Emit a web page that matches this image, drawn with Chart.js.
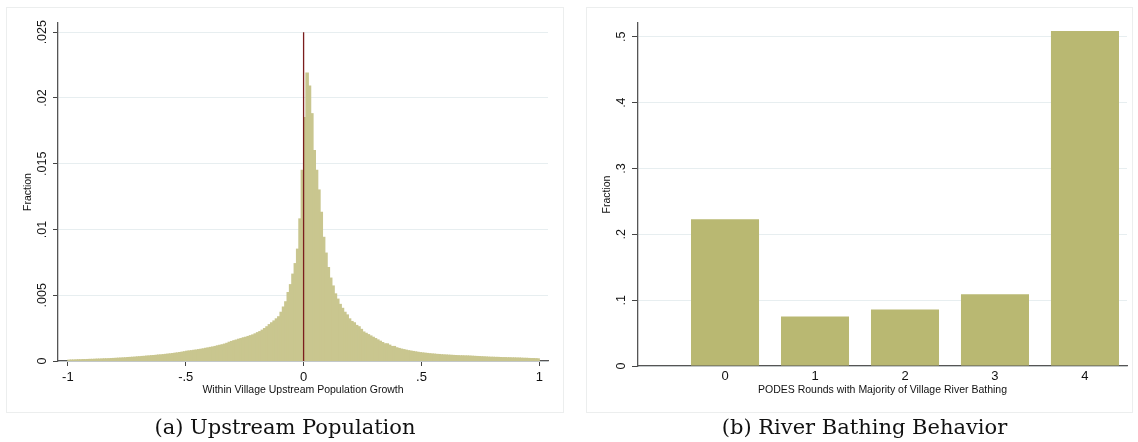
<!DOCTYPE html>
<html>
<head>
<meta charset="utf-8">
<script src="https://cdn.jsdelivr.net/npm/chart.js@4.4.1/dist/chart.umd.min.js"></script>
<style>
  body { margin: 0; background: #fff; width: 1138px; height: 442px; position: relative; overflow: hidden; font-family: "Liberation Sans", Arial, sans-serif; }
  .panel { position: absolute; top: 8px; height: 404px; outline: 1px solid #eceeee; }
  #panelA { left: 7px; width: 556px; }
  #panelB { left: 587px; width: 545px; }
  .caption { position: absolute; top: 413px; font-family: "DejaVu Serif", serif; font-size: 21px; line-height: 28px; color: #111; text-align: center; }
  #capA { left: 7px; width: 556px; }
  #capB { left: 587px; width: 555px; }
</style>
</head>
<body>
<div class="panel" id="panelA"><canvas id="chartA"></canvas></div>
<div class="panel" id="panelB"><canvas id="chartB"></canvas></div>
<div class="caption" id="capA">(a) Upstream Population</div>
<div class="caption" id="capB">(b) River Bathing Behavior</div>
<script>
// (a) histogram of within-village upstream population growth, bins of .01 from -1 to 1
const growthBinStart = -1;
const growthBinWidth = 0.01;
const growthFraction = [
    0.00006, 0.00007, 0.00007, 0.00008, 0.00009, 0.00009, 0.00010, 0.00010, 0.00011, 0.00012,
    0.00012, 0.00013, 0.00014, 0.00014, 0.00015, 0.00016, 0.00016, 0.00017, 0.00018, 0.00019,
    0.00020, 0.00021, 0.00022, 0.00023, 0.00024, 0.00026, 0.00027, 0.00028, 0.00029, 0.00031,
    0.00032, 0.00034, 0.00035, 0.00037, 0.00038, 0.00040, 0.00041, 0.00043, 0.00045, 0.00046,
    0.00048, 0.00050, 0.00052, 0.00054, 0.00056, 0.00059, 0.00061, 0.00064, 0.00067, 0.00070,
    0.00074, 0.00076, 0.00078, 0.00081, 0.00083, 0.00086, 0.00089, 0.00092, 0.00096, 0.00099,
    0.00103, 0.00106, 0.00110, 0.00115, 0.00119, 0.00123, 0.00128, 0.00134, 0.00142, 0.00148,
    0.00154, 0.00159, 0.00165, 0.00170, 0.00176, 0.00180, 0.00186, 0.00192, 0.00198, 0.00206,
    0.00215, 0.00223, 0.00234, 0.00246, 0.00260, 0.00276, 0.00290, 0.00304, 0.00320, 0.00336,
    0.00370, 0.00410, 0.00450, 0.00520, 0.00580, 0.00660, 0.00740, 0.00850, 0.01080, 0.01450,
    0.01850, 0.02190, 0.02090, 0.01880, 0.01600, 0.01450, 0.01300, 0.01130, 0.00940, 0.00820,
    0.00710, 0.00630, 0.00570, 0.00510, 0.00470, 0.00430, 0.00400, 0.00370, 0.00350, 0.00320,
    0.00300, 0.00290, 0.00270, 0.00260, 0.00240, 0.00220, 0.00210, 0.00200, 0.00190, 0.00180,
    0.00170, 0.00160, 0.00150, 0.00140, 0.00130, 0.00130, 0.00120, 0.00110, 0.00110, 0.00100,
    0.00095, 0.00090, 0.00086, 0.00082, 0.00078, 0.00075, 0.00072, 0.00069, 0.00066, 0.00063,
    0.00061, 0.00059, 0.00057, 0.00055, 0.00053, 0.00052, 0.00050, 0.00049, 0.00047, 0.00046,
    0.00045, 0.00044, 0.00043, 0.00042, 0.00041, 0.00040, 0.00039, 0.00039, 0.00038, 0.00038,
    0.00037, 0.00036, 0.00035, 0.00034, 0.00033, 0.00032, 0.00031, 0.00030, 0.00029, 0.00028,
    0.00028, 0.00027, 0.00027, 0.00026, 0.00025, 0.00025, 0.00024, 0.00024, 0.00023, 0.00023,
    0.00022, 0.00022, 0.00021, 0.00020, 0.00020, 0.00019, 0.00018, 0.00018, 0.00017, 0.00016
];
const growthXTicks = [-1, -0.5, 0, 0.5, 1];
const growthYTicks = [0, 0.005, 0.01, 0.015, 0.02, 0.025];
const zeroLineX = [0, 0];
const zeroLineY = [0, 0.025];

// (b) PODES rounds with majority river bathing
const bathingRounds = [0, 1, 2, 3, 4];
const bathingFraction = [0.223, 0.075, 0.086, 0.109, 0.509];
const bathingYTicks = [0, 0.1, 0.2, 0.3, 0.4, 0.5];

// stata style labels: .5 instead of 0.5
function stataLabel(value) {
    if (value === 0) return "0";
    return String(+value.toFixed(4)).replace(/^(-?)0\./, "$1.");
}

function fixedTicks(list) {
    return scale => { scale.ticks = list.map(v => ({ value: v })); };
}

const axisColor = "#555";
const gridColor = "#e7eef0";
const tickFont = { family: "Liberation Sans", size: 12.5 };
const titleFont = { family: "Liberation Sans", size: 10.5 };

Chart.defaults.color = "#111";
Chart.defaults.animation = false;

new Chart(document.getElementById("chartA"), {
    type: "bar",
    data: {
        datasets: [
            {
                type: "line",
                data: zeroLineX.map((x, i) => ({ x: x, y: zeroLineY[i] })),
                borderColor: "#7b1d1d",
                borderWidth: 1.3,
                pointRadius: 0,
                order: 0
            },
            {
                data: growthFraction.map((v, i) => ({ x: growthBinStart + growthBinWidth * (i + 0.5), y: v })),
                backgroundColor: "#c9c68f",
                borderWidth: 0,
                inflateAmount: 0.6,
                barPercentage: 1,
                categoryPercentage: 1,
                order: 1
            }
        ]
    },
    options: {
        responsive: true,
        maintainAspectRatio: false,
        layout: { padding: { top: 15, right: 15, left: 0, bottom: 0 } },
        plugins: { legend: { display: false }, tooltip: { enabled: false } },
        scales: {
            x: {
                type: "linear",
                offset: false,
                min: -1.042,
                max: 1.037,
                afterBuildTicks: fixedTicks(growthXTicks),
                afterFit: s => { s.height = 51; },
                ticks: { callback: stataLabel, font: { family: "Liberation Sans", size: 13 }, padding: 4, maxRotation: 0, autoSkip: false },
                grid: { offset: false, drawOnChartArea: false, tickLength: 5, tickColor: "#444" },
                border: { color: axisColor, width: 1.3 },
                title: { display: true, text: "Within Village Upstream Population Growth", font: titleFont, padding: { top: 0, bottom: 16 } }
            },
            y: {
                min: 0,
                max: 0.0257,
                afterBuildTicks: fixedTicks(growthYTicks),
                afterFit: s => { s.width = 51; },
                ticks: { callback: stataLabel, font: tickFont, minRotation: 90, maxRotation: 90, crossAlign: "center", padding: -2 },
                grid: { color: gridColor, tickLength: 5, tickColor: "#444" },
                border: { color: axisColor, width: 1.3 },
                title: { display: true, text: "Fraction", font: titleFont, padding: { top: 15, bottom: 0 } }
            }
        }
    }
});

new Chart(document.getElementById("chartB"), {
    type: "bar",
    data: {
        datasets: [{
            data: bathingRounds.map((r, i) => ({ x: r, y: bathingFraction[i] })),
            backgroundColor: "#b9b872",
            borderWidth: 0,
            barPercentage: 0.756,
            categoryPercentage: 1
        }]
    },
    options: {
        responsive: true,
        maintainAspectRatio: false,
        layout: { padding: { top: 15, right: 5, left: 0, bottom: 0 } },
        plugins: { legend: { display: false }, tooltip: { enabled: false } },
        scales: {
            x: {
                type: "linear",
                offset: false,
                min: -0.967,
                max: 4.467,
                afterBuildTicks: fixedTicks(bathingRounds),
                afterFit: s => { s.height = 46; },
                ticks: { callback: stataLabel, font: { family: "Liberation Sans", size: 13 }, padding: 3, maxRotation: 0, autoSkip: false },
                grid: { offset: false, drawOnChartArea: false, drawTicks: false },
                border: { color: axisColor, width: 1.3 },
                title: { display: true, text: "PODES Rounds with Majority of Village River Bathing", font: titleFont, padding: { top: 0, bottom: 16 } }
            },
            y: {
                min: 0,
                max: 0.521,
                afterBuildTicks: fixedTicks(bathingYTicks),
                afterFit: s => { s.width = 51; },
                ticks: { callback: stataLabel, font: tickFont, minRotation: 90, maxRotation: 90, crossAlign: "center", padding: 5 },
                grid: { color: gridColor, tickLength: 6, tickColor: "#444" },
                border: { color: axisColor, width: 1.3 },
                title: { display: true, text: "Fraction", font: titleFont, padding: { top: 14, bottom: 0 } }
            }
        }
    }
});
</script>
</body>
</html>
